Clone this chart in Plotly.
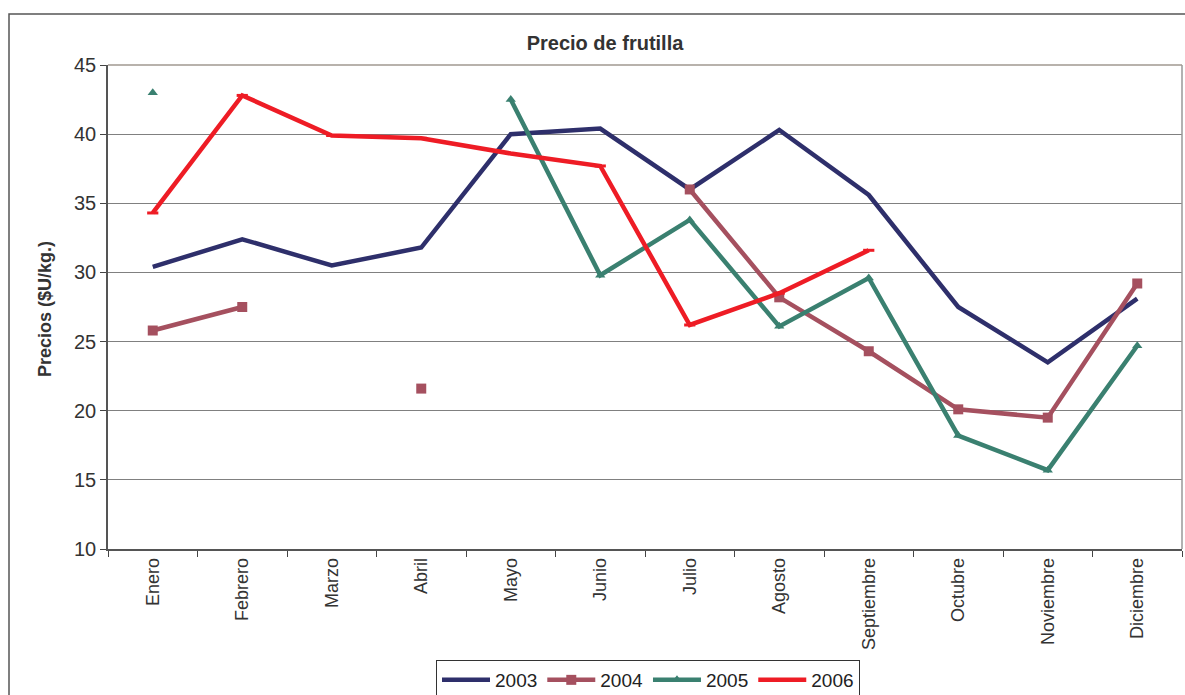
import plotly.graph_objects as go

months = ["Enero", "Febrero", "Marzo", "Abril", "Mayo", "Junio", "Julio",
          "Agosto", "Septiembre", "Octubre", "Noviembre", "Diciembre"]
p2003 = [30.4, 32.4, 30.5, 31.8, 40.0, 40.4, 36.0, 40.3, 35.6, 27.5, 23.5, 28.1]
p2004 = [25.8, 27.5, None, 21.6, None, None, 36.0, 28.2, 24.3, 20.1, 19.5, 29.2]
p2005 = [43.0, None, None, None, 42.5, 29.8, 33.8, 26.1, 29.6, 18.2, 15.7, 24.7]
p2006 = [34.3, 42.8, 39.9, 39.7, 38.6, 37.7, 26.2, 28.5, 31.6, None, None, None]
series_names = ["2003", "2004", "2005", "2006"]

colors = ["#2E2F6B", "#A5505F", "#3A8070", "#EE1C25"]

fig = go.Figure()
fig.add_trace(go.Scatter(x=months, y=p2003, name=series_names[0], mode="lines",
                         line=dict(color=colors[0], width=4.5)))
fig.add_trace(go.Scatter(x=months, y=p2004, name=series_names[1], mode="lines+markers",
                         line=dict(color=colors[1], width=4.5),
                         marker=dict(symbol="square", size=10, color=colors[1])))
fig.add_trace(go.Scatter(x=months, y=p2005, name=series_names[2], mode="lines+markers",
                         line=dict(color=colors[2], width=4.5),
                         marker=dict(symbol="triangle-up", size=9, color=colors[2])))
fig.add_trace(go.Scatter(x=months, y=p2006, name=series_names[3], mode="lines+markers",
                         line=dict(color=colors[3], width=4.5),
                         marker=dict(symbol="line-ew", size=8,
                                     line=dict(color=colors[3], width=3))))

W, H = 1185, 695
L, R, T, B = 108, 3, 65, 146
pw = W - L - R
ph = H - T - B

fig.update_layout(
    width=W, height=H,
    margin=dict(l=L, r=R, t=T, b=B, autoexpand=False),
    paper_bgcolor="white", plot_bgcolor="white",
    font=dict(family="Arial, Liberation Sans, sans-serif", color="#333333"),
    title=dict(text="<b>Precio de frutilla</b>", x=605 / W, xanchor="center",
               y=1 - 43 / H, yanchor="middle",
               font=dict(size=20, color="#333333")),
    showlegend=True,
    legend=dict(orientation="h", x=(648 - L) / pw, xanchor="center",
                y=-(660 - (T + ph)) / ph, yanchor="top",
                bordercolor="#333333", borderwidth=1,
                font=dict(size=19, color="#222222"),
                itemwidth=48, tracegroupgap=0),
    xaxis=dict(type="category", range=[-0.5, 11.5], tickson="boundaries",
               ticks="outside", ticklen=6, tickcolor="#444444",
               tickangle=-90, tickfont=dict(size=18, color="#333333"),
               showgrid=False, showline=True, linecolor="#555555", linewidth=1.5,
               mirror=False, zeroline=False, automargin=False),
    yaxis=dict(range=[10, 45], dtick=5, ticks="outside", ticklen=6,
               tickcolor="#444444", tickfont=dict(size=20, color="#333333"),
               showgrid=True, gridcolor="#808080", gridwidth=1,
               showline=True, linecolor="#555555", linewidth=1.5,
               zeroline=False, automargin=False),
    annotations=[dict(text="<b>Precios ($U/kg.)</b>", textangle=-90,
                      x=(45 - L) / pw, y=(549 - 309) / ph,
                      xref="paper", yref="paper", showarrow=False,
                      xanchor="center", yanchor="middle",
                      font=dict(size=18, color="#333333"))],
    shapes=[
        dict(type="rect", xref="paper", yref="paper",
             x0=(9 - L) / pw, x1=(1190 - L) / pw,
             y0=-(700 - (T + ph)) / ph, y1=1 + (T - 14) / ph,
             line=dict(color="#555555", width=1.5), layer="below"),
        dict(type="line", xref="paper", yref="paper", x0=1, x1=1, y0=0, y1=1,
             line=dict(color="#999999", width=1.5)),
        dict(type="line", xref="paper", yref="paper", x0=0, x1=1, y0=1, y1=1,
             line=dict(color="#A09890", width=1.5)),
    ],
)

fig.write_html("out.html", config={"displayModeBar": False},
               post_script="document.body.style.margin='0';document.body.style.overflow='hidden';")
